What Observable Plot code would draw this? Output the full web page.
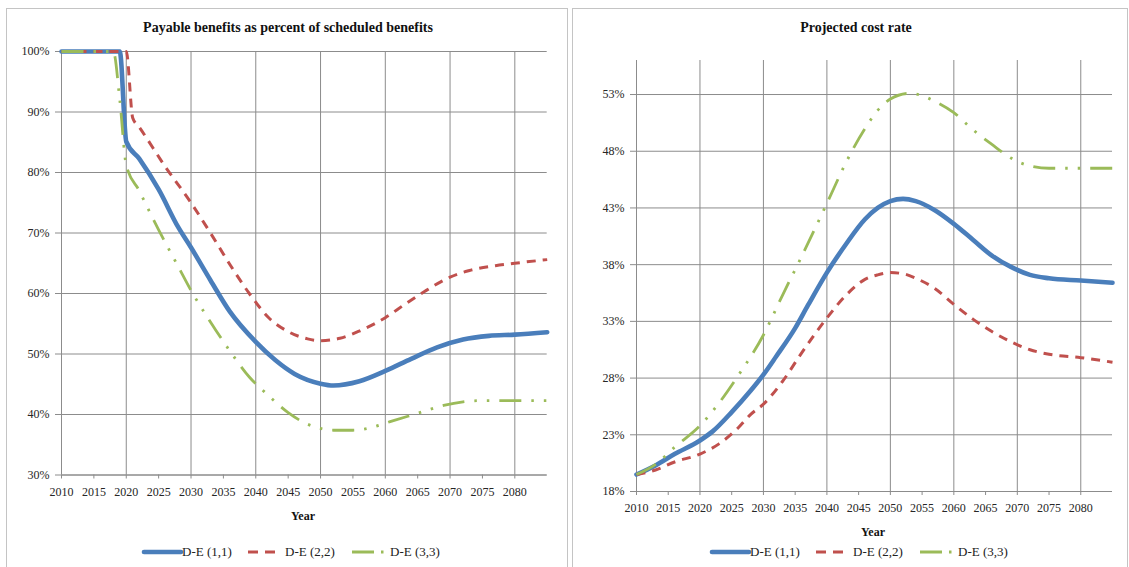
<!DOCTYPE html>
<html><head><meta charset="utf-8">
<script src="https://cdn.jsdelivr.net/npm/d3@7"></script>
<script src="https://cdn.jsdelivr.net/npm/@observablehq/plot@0.6"></script>
<style>
body{margin:0;background:#fff;font-family:"Liberation Serif","DejaVu Serif",serif;}
#root{position:relative;width:1129px;height:567px;overflow:hidden;background:#fff;font-family:"Liberation Serif","DejaVu Serif",serif;}
#root svg text{font-family:"Liberation Serif","DejaVu Serif",serif;}
.panel{position:absolute;border:1px solid #c4c4c4;box-sizing:border-box;}
.title{position:absolute;font-weight:bold;font-size:14px;transform:translate(-50%,-50%);white-space:nowrap;color:#111;}
.axt{position:absolute;font-weight:bold;font-size:12px;transform:translate(-50%,-50%);color:#111;}
.legtxt{position:absolute;font-size:13px;transform:translateY(-50%);white-space:nowrap;color:#222;}
.legsw{position:absolute;}
.plotsvg{position:absolute;}
</style></head><body><div id="root"></div>
<script>
// ---------- data ----------
const seriesNames = ["D-E (1,1)", "D-E (2,2)", "D-E (3,3)"];
const seriesColors = ["#4A7EBB", "#C0504D", "#9BBB59"];

// Left chart: payable benefits as percent of scheduled benefits (%)
const payYears11 = [2010, 2019, 2020, 2022, 2025, 2028, 2030, 2033, 2036, 2040, 2043, 2046, 2050, 2052, 2056, 2060, 2064, 2068, 2072, 2076, 2080, 2085];
const pay11      = [100, 100, 85.1, 82.3, 77.2, 71.0, 67.6, 62.2, 57.0, 52.0, 49.0, 46.7, 45.1, 44.8, 45.5, 47.2, 49.2, 51.1, 52.4, 53.0, 53.2, 53.6];
const payYears22 = [2010, 2020, 2021, 2022, 2026, 2030, 2033, 2036, 2039, 2042, 2045, 2048, 2050, 2053, 2056, 2060, 2063, 2066, 2070, 2073, 2077, 2080, 2085];
const pay22      = [100, 100, 89.0, 87.5, 81.0, 75.0, 70.0, 64.8, 60.0, 56.0, 53.7, 52.5, 52.2, 52.6, 53.8, 56.0, 58.2, 60.3, 62.7, 63.8, 64.6, 65.0, 65.6];
const payYears33 = [2010, 2018, 2019, 2020, 2022, 2025, 2028, 2030, 2033, 2036, 2039, 2042, 2045, 2048, 2050, 2052, 2055, 2058, 2061, 2065, 2069, 2072, 2075, 2080, 2085];
const pay33      = [100, 100, 92.0, 81.2, 77.0, 70.5, 64.5, 60.5, 55.3, 50.5, 46.2, 43.1, 40.3, 38.4, 37.7, 37.4, 37.4, 37.9, 38.9, 40.2, 41.5, 42.1, 42.3, 42.3, 42.3];
const payTicks = [30, 40, 50, 60, 70, 80, 90, 100];

// Right chart: projected cost rate (%)
const costYears11 = [2010, 2013, 2016, 2020, 2022, 2025, 2028, 2030, 2032, 2035, 2037, 2040, 2043, 2046, 2048, 2050, 2052, 2054, 2057, 2060, 2063, 2066, 2069, 2072, 2075, 2080, 2085];
const cost11      = [19.5, 20.3, 21.3, 22.5, 23.3, 25.0, 26.9, 28.3, 29.9, 32.4, 34.4, 37.3, 39.8, 42.0, 43.0, 43.6, 43.8, 43.6, 42.8, 41.6, 40.2, 38.8, 37.8, 37.1, 36.8, 36.6, 36.4];
const costYears22 = [2010, 2013, 2016, 2020, 2023, 2026, 2028, 2030, 2033, 2036, 2040, 2043, 2046, 2048, 2050, 2052, 2054, 2057, 2060, 2063, 2066, 2069, 2072, 2075, 2080, 2085];
const cost22      = [19.5, 19.9, 20.6, 21.3, 22.2, 23.6, 24.8, 25.7, 27.7, 30.2, 33.3, 35.3, 36.7, 37.1, 37.3, 37.2, 36.8, 35.9, 34.5, 33.2, 32.1, 31.2, 30.5, 30.1, 29.8, 29.4];
const costYears33 = [2010, 2013, 2016, 2020, 2023, 2026, 2030, 2033, 2036, 2040, 2043, 2046, 2048, 2050, 2053, 2055, 2057, 2060, 2063, 2066, 2069, 2072, 2075, 2080, 2085];
const cost33      = [19.5, 20.4, 21.9, 23.8, 25.8, 28.2, 31.8, 35.3, 38.7, 43.4, 47.0, 50.0, 51.6, 52.6, 53.1, 52.9, 52.4, 51.4, 49.9, 48.6, 47.4, 46.7, 46.5, 46.5, 46.5];
const costTicks = [18, 23, 28, 33, 38, 43, 48, 53];

const labelYears = [2010, 2015, 2020, 2025, 2030, 2035, 2040, 2045, 2050, 2055, 2060, 2065, 2070, 2075, 2080];
const gridYears = [2020, 2030, 2040, 2050, 2060, 2070, 2080];

// ---------- helpers ----------
const toRows = (years, vals) => years.map((y, i) => ({year: y, value: vals[i]}));
const lineStyles = [
  {strokeWidth: 4.6, strokeLinecap: "round", strokeLinejoin: "round"},
  {strokeWidth: 3, strokeDasharray: "9,7", strokeLinecap: "butt", strokeLinejoin: "round"},
  {strokeWidth: 2.8, strokeDasharray: "22,10,2.5,10,2.5,10", strokeLinecap: "butt", strokeLinejoin: "round"}
];
const gridColor = "#8c8c8c";
const serif = "'Liberation Serif', 'DejaVu Serif', serif";

function chart(opts) {
  const {width, height, ml, mr, mt, mb, yDomain, yTicks, series, yBase} = opts;
  return Plot.plot({
    width, height, marginLeft: ml, marginRight: mr, marginTop: mt, marginBottom: mb,
    style: {background: "transparent", fontFamily: serif, fontSize: "12px", color: "#262626", overflow: "visible"},
    x: {domain: [2010, 2085]},
    y: {domain: yDomain},
    marks: [
      Plot.gridY(yTicks, {stroke: gridColor, strokeOpacity: 1, strokeWidth: 1}),
      Plot.gridX(gridYears, {stroke: gridColor, strokeOpacity: 1, strokeWidth: 1}),
      Plot.ruleX([2010], {stroke: gridColor}),
      Plot.ruleY([yBase], {stroke: gridColor}),
      Plot.axisY(yTicks, {tickFormat: d => d + "%", tickSize: 6, tickPadding: 6, label: null, stroke: gridColor, fill: "#262626"}),
      Plot.axisX(labelYears, {tickFormat: d => String(d), tickSize: 4, tickPadding: 8, label: null, stroke: gridColor, fill: "#262626"}),
      ...series.map((rows, i) => Plot.line(rows, {x: "year", y: "value", stroke: seriesColors[i], curve: "monotone-x", ...lineStyles[i]}))
    ]
  });
}

const root = document.getElementById("root");
function add(el, css) { Object.assign(el.style, css); root.appendChild(el); return el; }
function div(cls, text, css) { const d = document.createElement("div"); d.className = cls; d.textContent = text; return add(d, css); }

// panels
div("panel", "", {left: "6px", top: "8px", width: "562px", height: "575px"});
div("panel", "", {left: "572px", top: "8px", width: "556px", height: "575px"});

// left chart
const leftSvg = chart({
  width: 568, height: 567, ml: 61, mr: 21.3, mt: 51, mb: 92.5,
  yDomain: [30, 100], yTicks: payTicks, yBase: 30,
  series: [toRows(payYears11, pay11), toRows(payYears22, pay22), toRows(payYears33, pay33)]
});
leftSvg.classList.add("plotsvg");
add(leftSvg, {left: "0px", top: "0px"});

// right chart
const rightSvg = chart({
  width: 559, height: 567, ml: 66, mr: 17, mt: 60, mb: 76,
  yDomain: [18, 56], yTicks: costTicks, yBase: 18,
  series: [toRows(costYears11, cost11), toRows(costYears22, cost22), toRows(costYears33, cost33)]
});
rightSvg.classList.add("plotsvg");
add(rightSvg, {left: "570px", top: "0px"});

// titles and axis titles
div("title", "Payable benefits as percent of scheduled benefits", {left: "288px", top: "28px"});
div("title", "Projected cost rate", {left: "856px", top: "28px"});
div("axt", "Year", {left: "303px", top: "516px"});
div("axt", "Year", {left: "873px", top: "532px"});

// legends
function legend(x0, y) {
  const sw = [
    {x: 144, w: 37, tx: 182},
    {x: 248, w: 33, tx: 285},
    {x: 352, w: 35, tx: 390}
  ];
  sw.forEach((s, i) => {
    const svg = d3.create("svg").attr("width", s.w + 6).attr("height", 12).attr("class", "legsw");
    const ln = svg.append("line").attr("x1", 3).attr("x2", s.w + 3).attr("y1", 6).attr("y2", 6)
      .attr("stroke", seriesColors[i]).attr("stroke-width", lineStyles[i].strokeWidth)
      .attr("stroke-linecap", lineStyles[i].strokeLinecap);
    if (i === 1) ln.attr("stroke-dasharray", "10,7");
    if (i === 2) ln.attr("stroke-dasharray", "22,7,2.5,10");
    add(svg.node(), {left: (x0 + s.x - 3) + "px", top: (y - 6) + "px"});
    div("legtxt", seriesNames[i], {left: (x0 + s.tx) + "px", top: y + "px"});
  });
}
legend(0, 552);
legend(568, 552);
</script>
</body></html>
